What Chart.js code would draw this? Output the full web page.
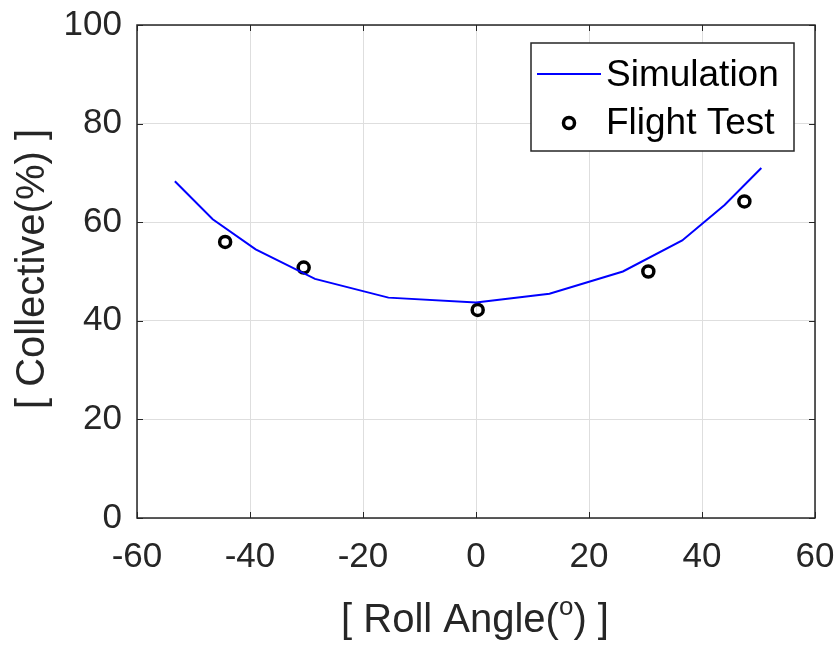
<!DOCTYPE html>
<html>
<head>
<meta charset="utf-8">
<script src="https://cdn.jsdelivr.net/npm/chart.js@4.4.1/dist/chart.umd.min.js"></script>
<style>
  body { margin: 0; background: #fff; }
  #wrap { width: 838px; height: 649px; }
</style>
</head>
<body>
<div id="wrap"><canvas id="myChart" width="838" height="649"></canvas></div>
<script>
// datos
const simAngle = [-53.3, -46.6, -39.0, -28.5, -15.5, 0.0, 13.0, 26.0, 36.5, 44.0, 50.5];
const simCollective = [68.3, 60.6, 54.5, 48.5, 44.7, 43.7, 45.5, 50.0, 56.3, 63.5, 71.0];
const testAngle = [-44.4, -30.5, 0.3, 30.5, 47.5];
const testCollective = [56.0, 50.8, 42.2, 50.0, 64.2];
const xTicks = [-60, -40, -20, 0, 20, 40, 60];
const yTicks = [0, 20, 40, 60, 80, 100];

const FONT = '"Liberation Sans", Arial, sans-serif';
const INK = '#262626';

// caja, marcas internas, leyenda y titulos al estilo matlab
const matlabBits = {
  id: 'matlabBits',
  afterDatasetsDraw(chart) {
    const ctx = chart.ctx;
    const a = chart.chartArea;
    const xs = chart.scales.x, ys = chart.scales.y;
    ctx.save();

    // marcas hacia adentro
    ctx.strokeStyle = INK;
    ctx.lineWidth = 1;
    const tl = 6;
    xTicks.forEach(v => {
      const px = Math.round(xs.getPixelForValue(v)) + 0.5;
      ctx.beginPath();
      ctx.moveTo(px, a.bottom); ctx.lineTo(px, a.bottom - tl);
      ctx.moveTo(px, a.top); ctx.lineTo(px, a.top + tl);
      ctx.stroke();
    });
    yTicks.forEach(v => {
      const py = Math.round(ys.getPixelForValue(v)) + 0.5;
      ctx.beginPath();
      ctx.moveTo(a.left, py); ctx.lineTo(a.left + tl, py);
      ctx.moveTo(a.right, py); ctx.lineTo(a.right - tl, py);
      ctx.stroke();
    });

    // caja
    ctx.lineWidth = 1.5;
    ctx.strokeRect(a.left, a.top, a.right - a.left, a.bottom - a.top);

    // leyenda
    ctx.fillStyle = '#fff';
    ctx.fillRect(531, 43, 263, 108);
    ctx.lineWidth = 1.5;
    ctx.strokeStyle = INK;
    ctx.strokeRect(531, 43, 263, 108);
    ctx.strokeStyle = '#0000ff';
    ctx.lineWidth = 2;
    ctx.beginPath(); ctx.moveTo(537, 74); ctx.lineTo(601, 74); ctx.stroke();
    ctx.strokeStyle = '#000';
    ctx.lineWidth = 3.5;
    ctx.beginPath(); ctx.arc(569, 123, 5.5, 0, Math.PI * 2); ctx.stroke();
    ctx.fillStyle = '#000';
    ctx.font = '37px ' + FONT;
    ctx.textAlign = 'left';
    ctx.textBaseline = 'middle';
    ctx.fillText('Simulation', 606, 76);
    ctx.fillText('Flight Test', 606, 124);

    // titulo eje x con superindice
    ctx.fillStyle = INK;
    ctx.textBaseline = 'alphabetic';
    const big = '40px ' + FONT, small = '26px ' + FONT;
    const p1 = '[ Roll Angle(', p2 = 'o', p3 = ') ]';
    ctx.font = big;
    const w1 = ctx.measureText(p1).width, w3 = ctx.measureText(p3).width;
    ctx.font = small;
    const w2 = ctx.measureText(p2).width;
    let x0 = 475 - (w1 + w2 + w3) / 2;
    const base = 632;
    ctx.font = big; ctx.fillText(p1, x0, base);
    ctx.font = small; ctx.fillText(p2, x0 + w1, base - 17);
    ctx.font = big; ctx.fillText(p3, x0 + w1 + w2, base);

    // titulo eje y
    ctx.translate(44, 269);
    ctx.rotate(-Math.PI / 2);
    ctx.textAlign = 'center';
    ctx.font = big;
    ctx.fillText('[ Collective(%) ]', 0, 0);
    ctx.restore();
  }
};

let myChart = document.getElementById('myChart').getContext('2d');

let rollChart = new Chart(myChart, {
  type: 'scatter',
  data: {
    datasets: [{
      label: 'Simulation',
      type: 'line',
      data: simAngle.map((v, i) => ({ x: v, y: simCollective[i] })),
      borderColor: '#0000ff',
      borderWidth: 2,
      pointRadius: 0,
      fill: false,
      tension: 0
    }, {
      label: 'Flight Test',
      data: testAngle.map((v, i) => ({ x: v, y: testCollective[i] })),
      pointStyle: 'circle',
      pointRadius: 5.5,
      borderWidth: 3.5,
      borderColor: '#000',
      backgroundColor: 'rgba(0,0,0,0)'
    }]
  },
  options: {
    responsive: false,
    animation: false,
    layout: { padding: { left: 0, top: 25, right: 23, bottom: 0 } },
    plugins: {
      legend: { display: false },
      tooltip: { enabled: false }
    },
    scales: {
      x: {
        type: 'linear',
        min: -60,
        max: 60,
        afterBuildTicks: s => { s.ticks = xTicks.map(v => ({ value: v })); },
        afterFit: s => { s.height = 131; s.paddingLeft = 0; s.paddingRight = 0; },
        ticks: { font: { family: FONT, size: 35 }, color: INK, padding: 18, maxRotation: 0 },
        grid: { color: '#dedede', drawTicks: false, lineWidth: 1 },
        border: { display: false }
      },
      y: {
        min: 0,
        max: 100,
        afterBuildTicks: s => { s.ticks = yTicks.map(v => ({ value: v })); },
        afterFit: s => { s.width = 137; s.paddingTop = 0; s.paddingBottom = 0; },
        ticks: { font: { family: FONT, size: 35 }, color: INK, padding: 15 },
        grid: { color: '#dedede', drawTicks: false, lineWidth: 1 },
        border: { display: false }
      }
    }
  },
  plugins: [matlabBits]
});
</script>
</body>
</html>
